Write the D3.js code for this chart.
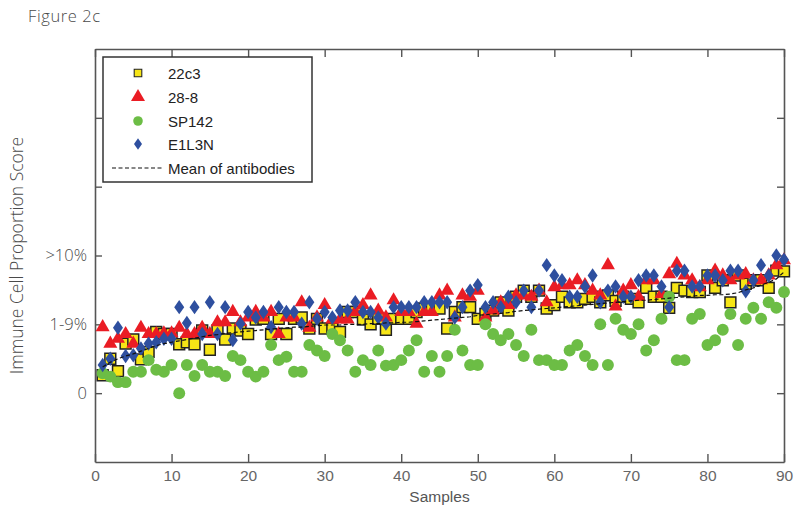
<!DOCTYPE html>
<html><head><meta charset="utf-8">
<script src="https://cdn.jsdelivr.net/npm/d3@7"></script>
<style>body{margin:0;background:#fff}svg{display:block}</style>
</head><body>
<svg id="c" width="800" height="517"></svg>
<script>
const samples = d3.range(1, 91);
const s22c3 = [0.26,0.50,0.32,0.72,0.78,0.49,0.60,0.89,0.86,0.86,0.71,0.74,0.71,0.91,0.63,0.91,0.78,0.94,0.91,0.86,1.07,1.08,0.86,1.08,0.86,1.08,1.10,0.94,1.08,0.94,
0.94,0.89,1.18,1.18,1.07,1.00,1.08,0.92,1.08,1.08,1.08,1.18,1.23,1.23,1.23,0.94,1.18,1.25,1.25,1.08,1.15,1.20,1.32,1.20,1.40,1.49,1.40,1.49,1.23,1.28,
1.40,1.32,1.32,1.37,1.40,1.32,1.42,1.34,1.40,1.37,1.32,1.53,1.40,1.40,1.24,1.53,1.49,1.47,1.47,1.71,1.53,1.64,1.32,1.71,1.59,1.64,1.64,1.53,1.78,1.77];
const s288 = [0.96,0.72,0.79,0.86,0.72,0.95,0.86,0.86,0.87,0.87,0.95,0.86,0.86,0.95,0.86,1.03,1.03,1.18,1.03,1.10,1.18,1.10,1.18,0.86,1.10,1.10,1.32,0.95,1.10,1.28,
1.07,1.07,1.07,1.18,1.28,1.42,1.20,1.10,1.35,1.18,1.18,1.01,1.18,1.18,1.42,1.49,1.10,1.42,1.40,1.49,1.10,1.20,1.32,1.28,1.42,1.42,1.40,1.49,1.32,1.54,
1.57,1.57,1.64,1.57,1.49,1.42,1.86,1.26,1.49,1.57,1.40,1.64,1.64,1.44,1.73,1.88,1.71,1.64,1.54,1.64,1.78,1.71,1.64,1.71,1.73,1.64,1.64,1.71,1.86,1.93];
const sSP142 = [0.29,0.24,0.16,0.16,0.31,0.31,0.48,0.34,0.31,0.41,0.00,0.41,0.25,0.41,0.31,0.31,0.25,0.54,0.48,0.31,0.24,0.31,0.70,0.48,0.53,0.31,0.31,0.70,0.62,0.54,
0.86,0.77,0.62,0.31,0.48,0.41,0.62,0.40,0.41,0.48,0.62,0.77,0.31,0.54,0.31,0.54,0.92,0.62,0.41,0.41,1.00,0.86,0.77,0.86,0.70,0.54,0.92,0.48,0.48,0.41,
0.41,0.62,0.70,0.54,0.41,1.00,0.41,1.08,0.92,0.86,1.00,0.62,0.77,1.08,1.40,0.48,0.48,1.08,1.15,0.70,0.77,0.92,1.15,0.70,1.08,1.24,1.08,1.32,1.24,1.47];
const sE1L3N = [0.41,0.50,0.95,0.54,0.55,0.65,0.72,0.74,0.79,0.79,1.25,1.02,1.25,0.86,1.32,0.86,1.25,0.77,1.01,1.18,1.10,1.18,0.96,1.25,1.18,1.18,1.01,1.32,1.08,1.18,
1.10,1.20,1.20,1.32,1.18,1.18,1.10,1.01,1.25,1.25,1.25,1.25,1.32,1.32,1.32,1.32,1.10,1.25,1.49,1.57,1.25,1.32,1.25,1.40,1.32,1.49,1.25,1.49,1.86,1.71,
1.64,1.40,1.40,1.55,1.71,1.32,1.49,1.55,1.40,1.40,1.64,1.71,1.71,1.55,1.25,1.78,1.78,1.55,1.55,1.71,1.71,1.64,1.78,1.78,1.48,1.64,1.86,1.71,2.00,1.94];
const meanLine = [0.38,0.45,0.50,0.54,0.57,0.61,0.65,0.69,0.72,0.74,0.76,0.78,0.80,0.82,0.84,0.85,0.87,0.88,0.89,0.90,0.91,0.92,0.93,0.94,0.95,0.96,0.96,0.97,0.98,0.99,
0.99,0.99,1.00,1.00,1.00,1.01,1.01,1.02,1.02,1.03,1.03,1.04,1.05,1.06,1.07,1.08,1.09,1.10,1.11,1.13,1.14,1.15,1.16,1.17,1.19,1.20,1.21,1.22,1.23,1.24,
1.25,1.26,1.27,1.28,1.29,1.30,1.31,1.32,1.33,1.34,1.35,1.35,1.36,1.37,1.38,1.39,1.40,1.41,1.42,1.42,1.43,1.43,1.44,1.46,1.50,1.53,1.57,1.61,1.66,1.76];
const xTicks = [0,10,20,30,40,50,60,70,80,90];
const yTicks = [0,1,2,3,4];
const yTickLabels = ["0","1-9%",">10%","",""];
const seriesNames = ["22c3","28-8","SP142","E1L3N"];
const meanName = "Mean of antibodies";

const svg = d3.select("#c");
const L = 95, R = 784, T = 49, B = 462;
const x = d3.scaleLinear().domain([0,90]).range([L,R]);
const y = d3.scaleLinear().domain([-1,5]).range([B,T]);
const axisCol = "#555";
const lightFont = "'Open Sans', 'DejaVu Sans', sans-serif";
const sansFont = "'Liberation Sans', Arial, sans-serif";

svg.append("text").attr("x",28).attr("y",22).attr("font-family",lightFont).attr("font-weight",300)
  .attr("font-size",16.5).attr("letter-spacing",0.6).attr("fill","#4a4a4a").text("Figure 2c");

// axes
const gx = svg.append("g").attr("transform",`translate(0,${B})`)
  .call(d3.axisBottom(x).tickValues(xTicks).tickSizeInner(-8).tickSizeOuter(0).tickPadding(8));
const gxt = svg.append("g").attr("transform",`translate(0,${T})`)
  .call(d3.axisTop(x).tickValues(xTicks).tickSizeInner(-8).tickSizeOuter(0).tickFormat(""));
const gy = svg.append("g").attr("transform",`translate(${L},0)`)
  .call(d3.axisLeft(y).tickValues(yTicks).tickSizeInner(-7).tickSizeOuter(0).tickPadding(8)
    .tickFormat((d,i)=>yTickLabels[i]));
const gyr = svg.append("g").attr("transform",`translate(${R},0)`)
  .call(d3.axisRight(y).tickValues(yTicks).tickSizeInner(-7).tickSizeOuter(0).tickFormat(""));
[gx,gxt,gy,gyr].forEach(g=>{
  g.selectAll("path").attr("stroke",axisCol).attr("stroke-width",1.6);
  g.selectAll("line").attr("stroke",axisCol).attr("stroke-width",1.4);
});
gx.selectAll("text").attr("font-family",sansFont).attr("font-size",15.5).attr("fill","#666");
gy.selectAll("text").attr("font-family",lightFont).attr("font-weight",300).attr("font-size",16.5).attr("fill","#4a4a4a");

svg.append("text").attr("x",(L+R)/2).attr("y",502).attr("text-anchor","middle")
  .attr("font-family",sansFont).attr("font-size",15.5).attr("fill","#555").text("Samples");
svg.append("text").attr("transform",`translate(23,${(T+B)/2}) rotate(-90)`).attr("text-anchor","middle")
  .attr("font-family",lightFont).attr("font-weight",300).attr("font-size",17.5).attr("fill","#4a4a4a")
  .text("Immune Cell Proportion Score");

// markers
const cols = {yellow:"#f6e516", red:"#ea1c24", green:"#6cbd45", blue:"#2e4f9f"};
const sq = d3.symbol().type(d3.symbolSquare).size(118);
const tri = d3.symbol().type(d3.symbolTriangle).size(85);
const circ = d3.symbol().type(d3.symbolCircle).size(112);
const diamondPath = "M0,-7.2L5,0L0,7.2L-5,0Z";

function drawSeries(vals, pathFn, fill, stroke, sw){
  svg.append("g").selectAll("path").data(vals).join("path")
    .attr("transform",(d,i)=>`translate(${x(samples[i])},${y(d)})`)
    .attr("d",pathFn).attr("fill",fill).attr("stroke",stroke).attr("stroke-width",sw);
}
drawSeries(s22c3, sq, cols.yellow, "#222", 1.5);
drawSeries(s288, tri, cols.red, "none", 0);
drawSeries(sSP142, circ, cols.green, "none", 0);
drawSeries(sE1L3N, diamondPath, cols.blue, "none", 0);

const line = d3.line().x((d,i)=>x(samples[i])).y(d=>y(d));
svg.append("path").datum(meanLine).attr("d",line).attr("fill","none")
  .attr("stroke","#111").attr("stroke-width",1.2).attr("stroke-dasharray","4,2.5");

// legend
const lg = svg.append("g");
lg.append("rect").attr("x",103).attr("y",57).attr("width",209).attr("height",125)
  .attr("fill","#fff").attr("stroke","#333").attr("stroke-width",1.5);
const rowsY = [73,97,121,144];
const legendShapes = [[sq, cols.yellow, "#222", 1.5, 0.7],[tri, cols.red, "none", 0, 1],[circ, cols.green, "none",0,0.8],[diamondPath, cols.blue,"none",0,0.8]];
seriesNames.forEach((n,i)=>{
  const [p,f,s,w,sc] = legendShapes[i];
  lg.append("path").attr("d",p).attr("transform",`translate(138,${rowsY[i]}) scale(${sc})`)
    .attr("fill",f).attr("stroke",s).attr("stroke-width",w);
  lg.append("text").attr("x",168).attr("y",rowsY[i]+5.5).attr("font-family",sansFont)
    .attr("font-size",15).attr("fill","#222").text(n);
});
lg.append("line").attr("x1",112).attr("x2",163).attr("y1",168).attr("y2",168)
  .attr("stroke","#111").attr("stroke-width",1.2).attr("stroke-dasharray","4,2.5");
lg.append("text").attr("x",168).attr("y",173.5).attr("font-family",sansFont)
  .attr("font-size",15).attr("fill","#222").text(meanName);
</script>
</body></html>
